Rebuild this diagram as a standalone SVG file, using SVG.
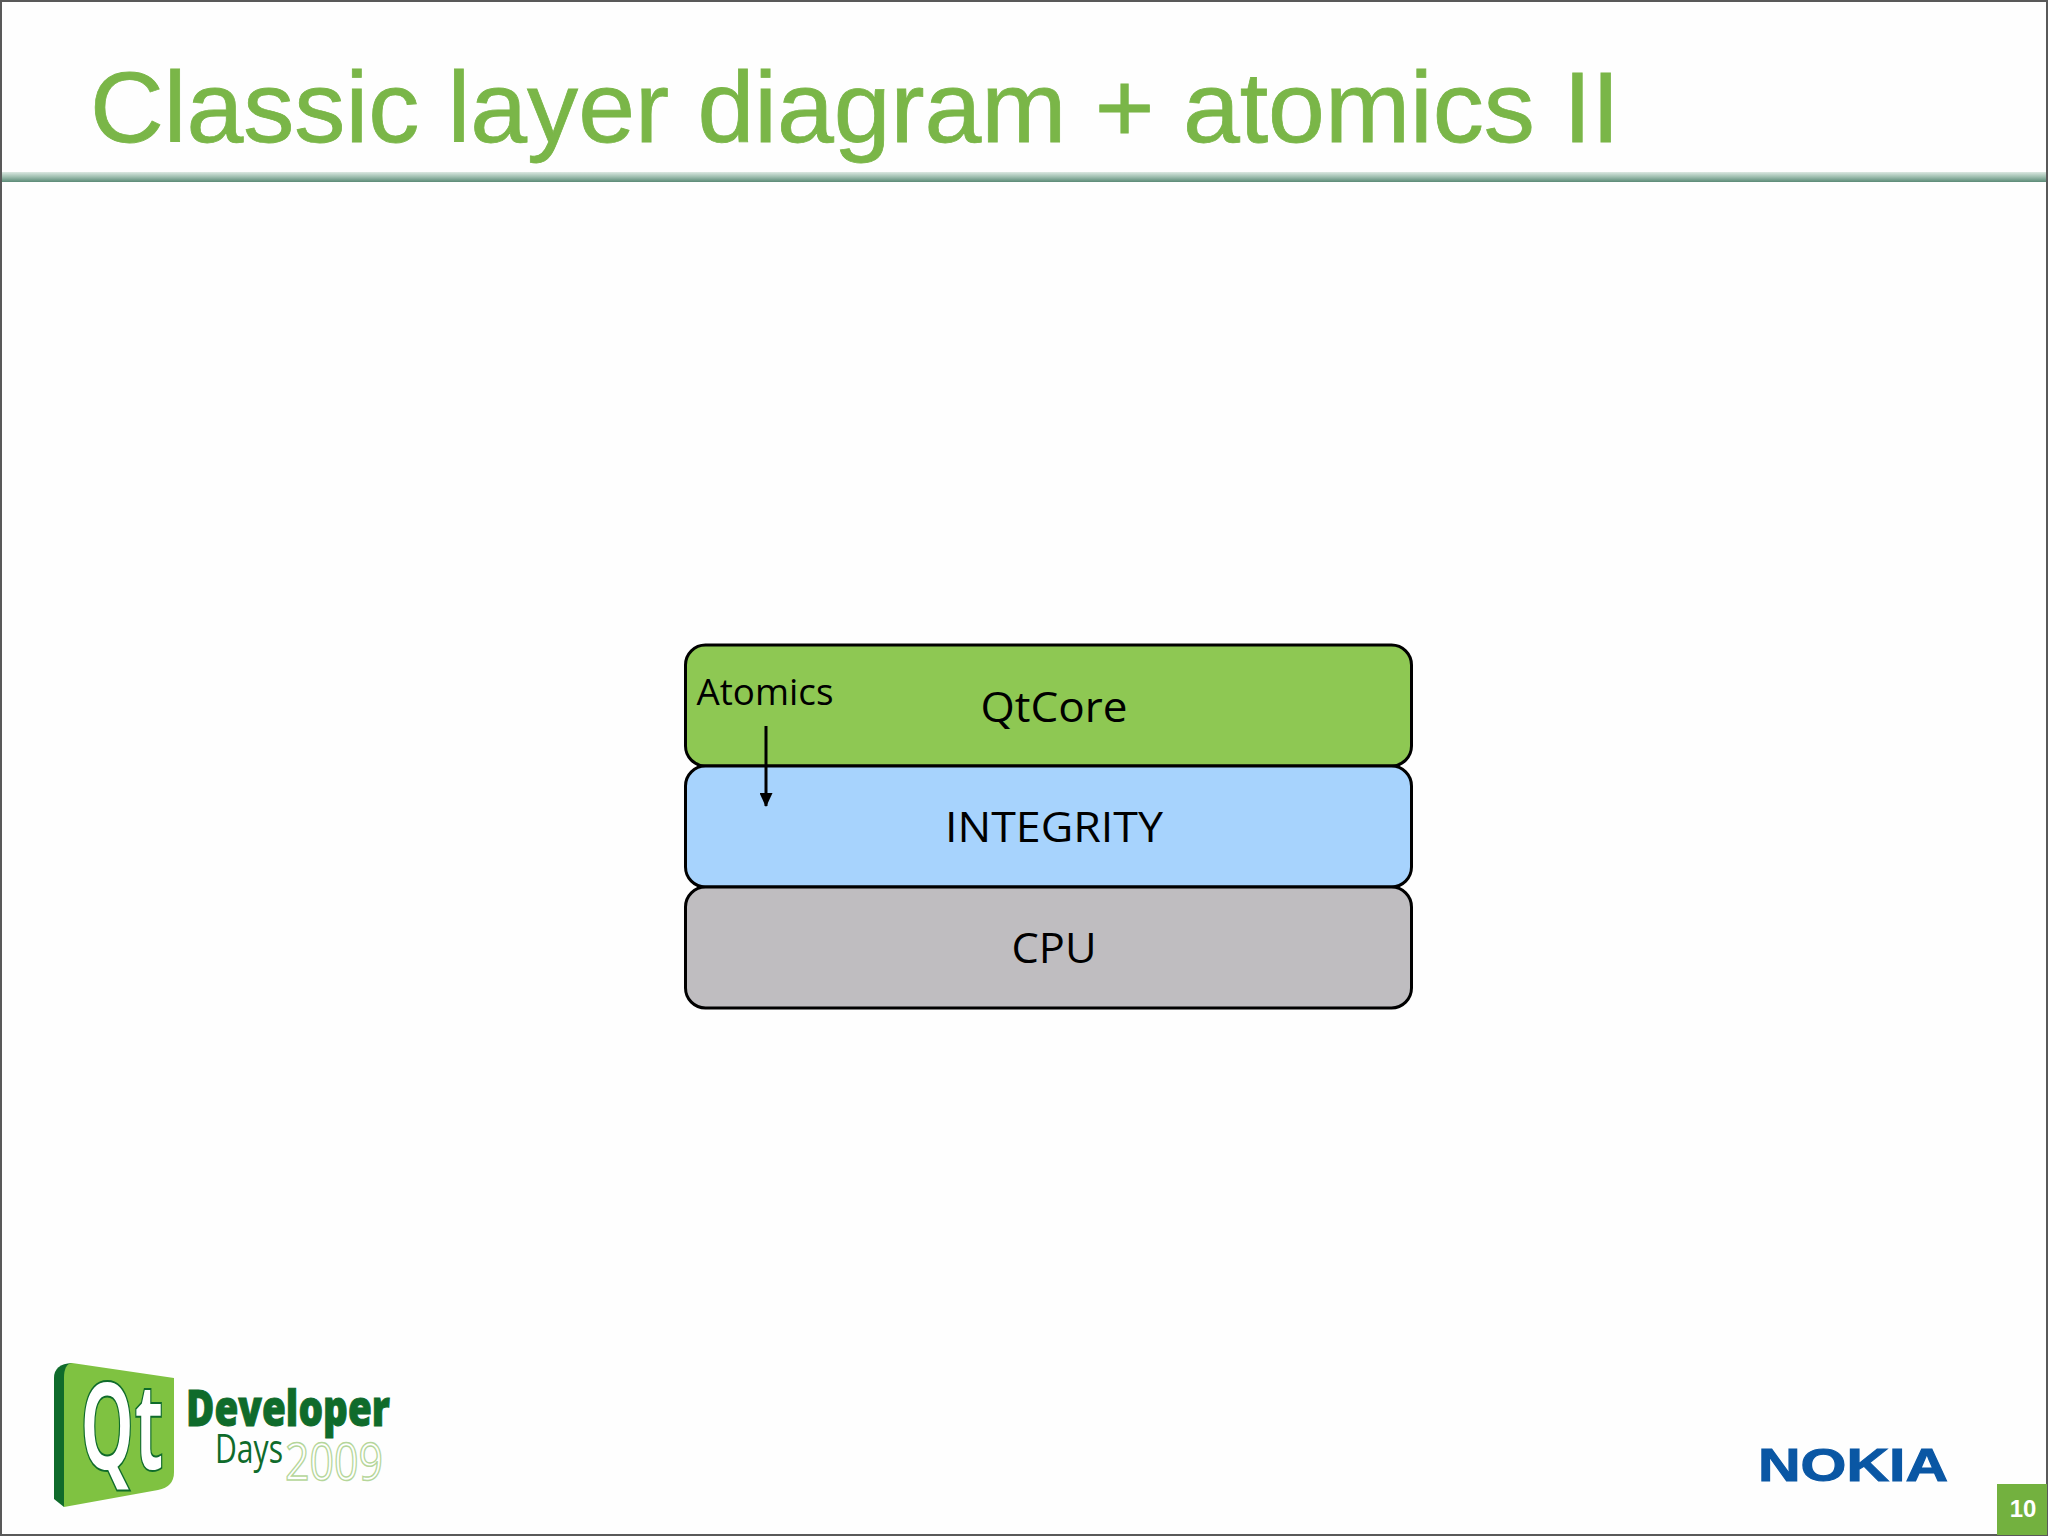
<svg xmlns="http://www.w3.org/2000/svg" width="2048" height="1536" viewBox="0 0 2048 1536">
<style>
.layer{stroke:#000;stroke-width:3}
.lbl{font-family:"Open Sans","Noto Sans",sans-serif;fill:#000;text-anchor:middle}
.sans{font-family:"Liberation Sans",Arial,sans-serif}
.cond{font-family:"Open Sans","Liberation Sans",sans-serif}
</style>
<defs>
<linearGradient id="rule" x1="0" y1="0" x2="0" y2="1">
<stop offset="0" stop-color="#dbe8e1"/><stop offset=".5" stop-color="#9dbdae"/><stop offset="1" stop-color="#5b8a76"/>
</linearGradient>
<marker id="arrow" markerUnits="userSpaceOnUse" markerWidth="14" markerHeight="13" refX="13" refY="6.5" orient="auto">
<path d="M0 0L14 6.5L0 13z" fill="#000"/>
</marker>
</defs>
<rect width="2048" height="1536" fill="#fefefe"/>
<rect x="1" y="1" width="2046" height="1534" fill="none" stroke="#595959" stroke-width="2"/>
<rect x="2" y="172" width="2044" height="10" fill="url(#rule)"/>
<text class="sans" x="90" y="142" font-size="101" fill="#7ab648" stroke="#7ab648" stroke-width=".8" textLength="1530" lengthAdjust="spacingAndGlyphs">Classic layer diagram + atomics II</text>

<g id="node-qtcore">
<rect class="layer" x="685.5" y="645" width="726" height="121" rx="20" fill="#8ec853"/>
<text class="lbl" x="1054" y="722" font-size="42" textLength="147" lengthAdjust="spacingAndGlyphs">QtCore</text>
</g>
<g id="node-integrity">
<rect class="layer" x="685.5" y="766" width="726" height="121" rx="20" fill="#a7d3fd"/>
<text class="lbl" x="1054" y="842" font-size="42" textLength="218" lengthAdjust="spacingAndGlyphs">INTEGRITY</text>
</g>
<g id="node-cpu">
<rect class="layer" x="685.5" y="887" width="726" height="121" rx="20" fill="#bfbdc0"/>
<text class="lbl" x="1054" y="963" font-size="42" textLength="85" lengthAdjust="spacingAndGlyphs">CPU</text>
</g>
<g id="node-atomics">
<text class="lbl" x="765" y="705" font-size="36" textLength="137" lengthAdjust="spacingAndGlyphs">Atomics</text>
</g>
<g id="connectors">
<line x1="766" y1="726" x2="766" y2="806" stroke="#000" stroke-width="3" marker-end="url(#arrow)"/>
</g>

<g id="logo-qt">
<path d="M54 1378Q54 1364 72 1363L64 1507L54 1499Z" fill="#0f6b2b"/>
<path d="M72 1363L174 1378V1472Q174 1487 158 1490L64 1507V1378Q64 1364 72 1363Z" fill="#7fc241"/>
<text class="cond" x="122" y="1470" font-size="122" font-weight="700" fill="#fff" stroke="#0f6b2b" stroke-width="2" text-anchor="middle" textLength="84" lengthAdjust="spacingAndGlyphs">Qt</text>
<text class="cond" x="186" y="1426" font-size="50" font-weight="800" fill="#0f6b2b" stroke="#0f6b2b" stroke-width="1" textLength="204" lengthAdjust="spacingAndGlyphs">Developer</text>
<text class="cond" x="215" y="1463" font-size="40" fill="#0f6b2b" textLength="68" lengthAdjust="spacingAndGlyphs">Days</text>
<text class="cond" x="285" y="1480" font-size="52" fill="#fff" stroke="#b5d69a" stroke-width="1.5" textLength="98" lengthAdjust="spacingAndGlyphs">2009</text>
</g>
<g id="logo-nokia">
<text class="sans" x="1758" y="1481" font-size="46" font-weight="700" fill="#0a57a4" stroke="#0a57a4" stroke-width="1" textLength="190" lengthAdjust="spacingAndGlyphs">NOKIA</text>
</g>
<g id="page-number">
<rect x="1997" y="1484" width="50" height="51" fill="#73b13f"/>
<text class="sans" x="2023" y="1517" font-size="24" font-weight="700" fill="#fff" text-anchor="middle">10</text>
</g>
</svg>
